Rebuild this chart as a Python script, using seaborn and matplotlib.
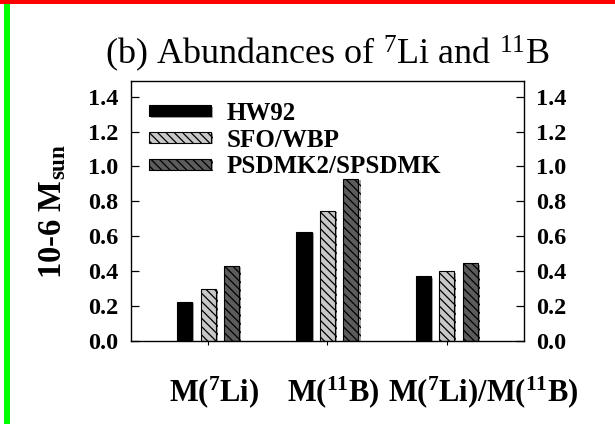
import numpy as np
import pandas as pd
import matplotlib
matplotlib.use("Agg")
import matplotlib.pyplot as plt
import matplotlib.patheffects as pe
from matplotlib.patches import Rectangle
from matplotlib.transforms import ScaledTranslation
import seaborn as sns

# Masses (in units of 1e-6 solar masses) per model and quantity
quantities = ["M($^{7}$Li)", "M($^{11}$B)", "M($^{7}$Li)/M($^{11}$B)"]
models = ["HW92", "SFO/WBP", "PSDMK2/SPSDMK"]
hw92 = [0.225, 0.626, 0.370]
sfo_wbp = [0.300, 0.745, 0.400]
psdmk = [0.430, 0.930, 0.445]
yticks = [0.0, 0.2, 0.4, 0.6, 0.8, 1.0, 1.2, 1.4]

df = pd.DataFrame({
    "quantity": quantities * 3,
    "model": [m for m in models for _ in quantities],
    "mass": hw92 + sfo_wbp + psdmk,
})

sns.set_theme(style="white")
plt.rcParams["font.family"] = ["Liberation Serif", "DejaVu Serif"]
plt.rcParams["mathtext.default"] = "regular"
plt.rcParams["hatch.linewidth"] = 0.9
plt.rcParams["text.color"] = "black"
plt.rcParams["axes.labelcolor"] = "black"

fig = plt.figure(figsize=(6.15, 4.24), dpi=100)
ax = fig.add_axes([0.213, 0.1958, 0.639, 0.6132])

sns.barplot(data=df, x="quantity", y="mass", hue="model", order=quantities,
            hue_order=models, width=0.59, gap=0.36, ax=ax, legend=False,
            errorbar=None)

fills = ["#000000", "#c8c8c8", "#5c5c5c"]
hatches = [None, "\\\\\\\\", "\\\\\\\\"]


def shadow():
    return [pe.SimplePatchShadow(offset=(1.5, -1.0), shadow_rgbFace="#808080", alpha=0.7),
            pe.Normal()]


def style(patch, fc, h):
    patch.set_facecolor(fc)
    patch.set_edgecolor("black")
    patch.set_linewidth(0.8)
    if h:
        patch.set_hatch(h)
    patch.set_path_effects(shadow())


for cont, fc, h in zip(ax.containers, fills, hatches):
    for bar in cont:
        style(bar, fc, h)

ax.set_xlim(-0.646, 2.646)
ax.set_ylim(0, 1.49)
ax.set_yticks(yticks)
ax.set_yticklabels([f"{v:.1f}" for v in yticks])

for side in ["left", "right", "top", "bottom"]:
    ax.spines[side].set_visible(True)
    ax.spines[side].set_color("black")
    ax.spines[side].set_linewidth(1.0)

ax.tick_params(axis="y", which="both", direction="in", length=6, width=0.9,
               left=True, right=True, labelleft=True, labelright=True,
               pad=9, labelsize=17.5, colors="black")
ax.tick_params(axis="x", direction="out", length=3, width=0.8, bottom=True,
               pad=21, labelsize=22, colors="black")
for t in ax.yaxis.get_major_ticks():
    t.label1.set_fontweight("bold")
    t.label2.set_fontweight("bold")

# shift the category labels to the right of their ticks
shifts_pt = [4, 4, 26]
for lab, dx in zip(ax.get_xticklabels(), shifts_pt):
    lab.set_fontweight("bold")
    lab.set_transform(lab.get_transform() + ScaledTranslation(dx / 72, 0, fig.dpi_scale_trans))

ax.set_xlabel("")
ax.set_ylabel("10-6 M$_{sun}$", fontsize=23.5, fontweight="bold", va="center")
ax.yaxis.set_label_coords(-0.2, 0.5)

ax.set_title("(b) Abundances of $^{7}$Li and $^{11}$B", fontsize=26, pad=12,
             color="black")

handles = []
for fc, h in zip(fills, hatches):
    r = Rectangle((0, 0), 1, 1)
    style(r, fc, h)
    handles.append(r)
leg = ax.legend(handles, models, loc="upper left", bbox_to_anchor=(0.045, 0.92),
                frameon=False, prop={"weight": "bold", "size": 18},
                handlelength=2.5, handleheight=0.3, handletextpad=0.6,
                labelspacing=0.15, borderpad=0, borderaxespad=0)

# coloured border strips
fig.patches.append(Rectangle((0, 1 - 4 / 424), 1, 4 / 424, transform=fig.transFigure,
                             facecolor="#ff0000", edgecolor="none", zorder=10))
fig.patches.append(Rectangle((4 / 615, 0), 6 / 615, 1 - 4 / 424, transform=fig.transFigure,
                             facecolor="#00ff00", edgecolor="none", zorder=10))

fig.savefig("out.png", dpi=100)
